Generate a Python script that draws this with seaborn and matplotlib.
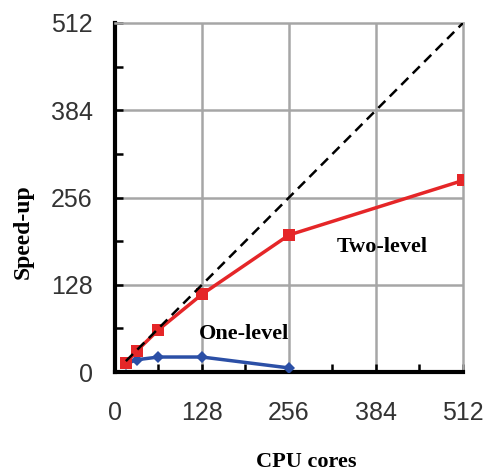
import numpy as np
import pandas as pd
import matplotlib
matplotlib.use("Agg")
import matplotlib.pyplot as plt
from matplotlib.ticker import MultipleLocator
import seaborn as sns

cores_two = [16, 32, 64, 128, 256, 512]
speedup_two = [13, 31, 62, 114, 201, 281]

cores_one = [16, 32, 64, 128, 256]
speedup_one = [12, 18, 22, 22, 6]

ideal_cores = [16, 512]

sns.set_theme(style="white")

two_df = pd.DataFrame({"cores": cores_two, "speedup": speedup_two})
one_df = pd.DataFrame({"cores": cores_one, "speedup": speedup_one})
ideal_df = pd.DataFrame({"cores": ideal_cores, "speedup": ideal_cores})

fig = plt.figure(figsize=(4.84, 4.75), dpi=100)
ax = fig.add_axes([0.2376, 0.2168, 0.7190, 0.7348])

grid_c = "#a6a6a6"
for v in [128, 256, 384]:
    ax.axvline(v, color=grid_c, lw=1.8, zorder=0)
    ax.axhline(v, color=grid_c, lw=1.8, zorder=0)

sns.lineplot(data=ideal_df, x="cores", y="speedup", ax=ax, color="black",
             lw=1.8, linestyle=(0, (4, 2.5)), zorder=4)
sns.lineplot(data=one_df, x="cores", y="speedup", ax=ax, color="#2b4fa6",
             lw=2.5, marker="D", markersize=6, markeredgewidth=0, zorder=3)
sns.lineplot(data=two_df, x="cores", y="speedup", ax=ax, color="#e52628",
             lw=2.5, marker="s", markersize=8.5, markeredgewidth=0, zorder=3)

ax.set_xlim(0, 512)
ax.set_ylim(0, 512)
ax.xaxis.set_major_locator(MultipleLocator(128))
ax.yaxis.set_major_locator(MultipleLocator(128))
ax.xaxis.set_minor_locator(MultipleLocator(64))
ax.yaxis.set_minor_locator(MultipleLocator(64))
ax.tick_params(which="both", direction="in", length=6, width=1.8, color="black",
               bottom=True, left=True, top=False, right=False)
ax.tick_params(axis="x", which="major", pad=21, labelsize=18, labelcolor="#333333")
ax.tick_params(axis="y", which="major", pad=16, labelsize=18, labelcolor="#333333")
for lbl in ax.get_xticklabels() + ax.get_yticklabels():
    lbl.set_family(["Liberation Sans", "DejaVu Sans"])

for s in ["left", "bottom"]:
    ax.spines[s].set_color("black")
    ax.spines[s].set_linewidth(3)
for s in ["top", "right"]:
    ax.spines[s].set_color(grid_c)
    ax.spines[s].set_linewidth(1.8)

serif = ["Liberation Serif", "DejaVu Serif"]
ax.set_xlabel("CPU cores", fontsize=16, fontweight="bold", family=serif, color="black")
ax.xaxis.set_label_coords(0.55, -0.272)
ax.xaxis.label.set_verticalalignment("baseline")
ax.set_ylabel("Speed-up", fontsize=17, fontweight="bold", family=serif, color="black")
ax.yaxis.set_label_coords(-0.264, 0.401)
ax.yaxis.label.set_verticalalignment("center")

ax.text(326, 176, "Two-level", fontsize=16, fontweight="bold", family=serif,
        color="black", va="baseline")
ax.text(123, 48, "One-level", fontsize=16, fontweight="bold", family=serif,
        color="black", va="baseline")

fig.savefig("out.png", dpi=100)
